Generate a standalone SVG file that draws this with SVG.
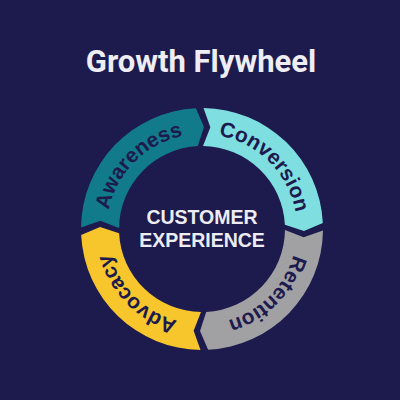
<svg xmlns="http://www.w3.org/2000/svg" xmlns:xlink="http://www.w3.org/1999/xlink" width="400" height="400" viewBox="0 0 400 400">
  <style>
    .title { font-family: Roboto, "Liberation Sans", sans-serif; font-weight: bold; font-size: 31px; fill: #ededf3; }
    .center { font-family: "Liberation Sans", Arial, sans-serif; font-weight: bold; font-size: 19.5px; fill: #ececf2; }
    .label { font-family: "Liberation Sans", Arial, sans-serif; font-weight: bold; font-size: 21px; fill: #1d1a4e; }
  </style>
  <defs>
    <path id="seg" d="M1.48,-120.99 A121,121 0 0 1 120.85,-6.12 L101.98,1.96 L82.89,-4.20 A83,83 0 0 0 1.01,-82.99 L8.36,-101.66 Z"/>
    <path id="textCircle" d="M202,134 A95,95 0 1 1 202,324 A95,95 0 1 1 202,134"/>
  </defs>
  <rect width="400" height="400" fill="#1d1a4e"/>

  <g id="title">
    <text class="title" x="201" y="72" text-anchor="middle">Growth Flywheel</text>
  </g>

  <g id="conversion">
    <use xlink:href="#seg" href="#seg" transform="translate(202,229) rotate(0)" fill="#7fdfe0"/>
    <text class="label" text-anchor="middle"><textPath xlink:href="#textCircle" href="#textCircle" startOffset="12.5%">Conversion</textPath></text>
  </g>

  <g id="retention">
    <use xlink:href="#seg" href="#seg" transform="translate(202,229) rotate(90)" fill="#a1a1a4"/>
    <text class="label" text-anchor="middle"><textPath xlink:href="#textCircle" href="#textCircle" startOffset="37.5%">Retention</textPath></text>
  </g>

  <g id="advocacy">
    <use xlink:href="#seg" href="#seg" transform="translate(202,229) rotate(180)" fill="#f6c62c"/>
    <text class="label" text-anchor="middle"><textPath xlink:href="#textCircle" href="#textCircle" startOffset="62.5%">Advocacy</textPath></text>
  </g>

  <g id="awareness">
    <use xlink:href="#seg" href="#seg" transform="translate(202,229) rotate(270)" fill="#127b8b"/>
    <text class="label" text-anchor="middle"><textPath xlink:href="#textCircle" href="#textCircle" startOffset="87.5%">Awareness</textPath></text>
  </g>

  <g id="customer-experience">
    <text class="center" x="202" y="224" text-anchor="middle">CUSTOMER</text>
    <text class="center" x="202" y="247" text-anchor="middle">EXPERIENCE</text>
  </g>
</svg>
